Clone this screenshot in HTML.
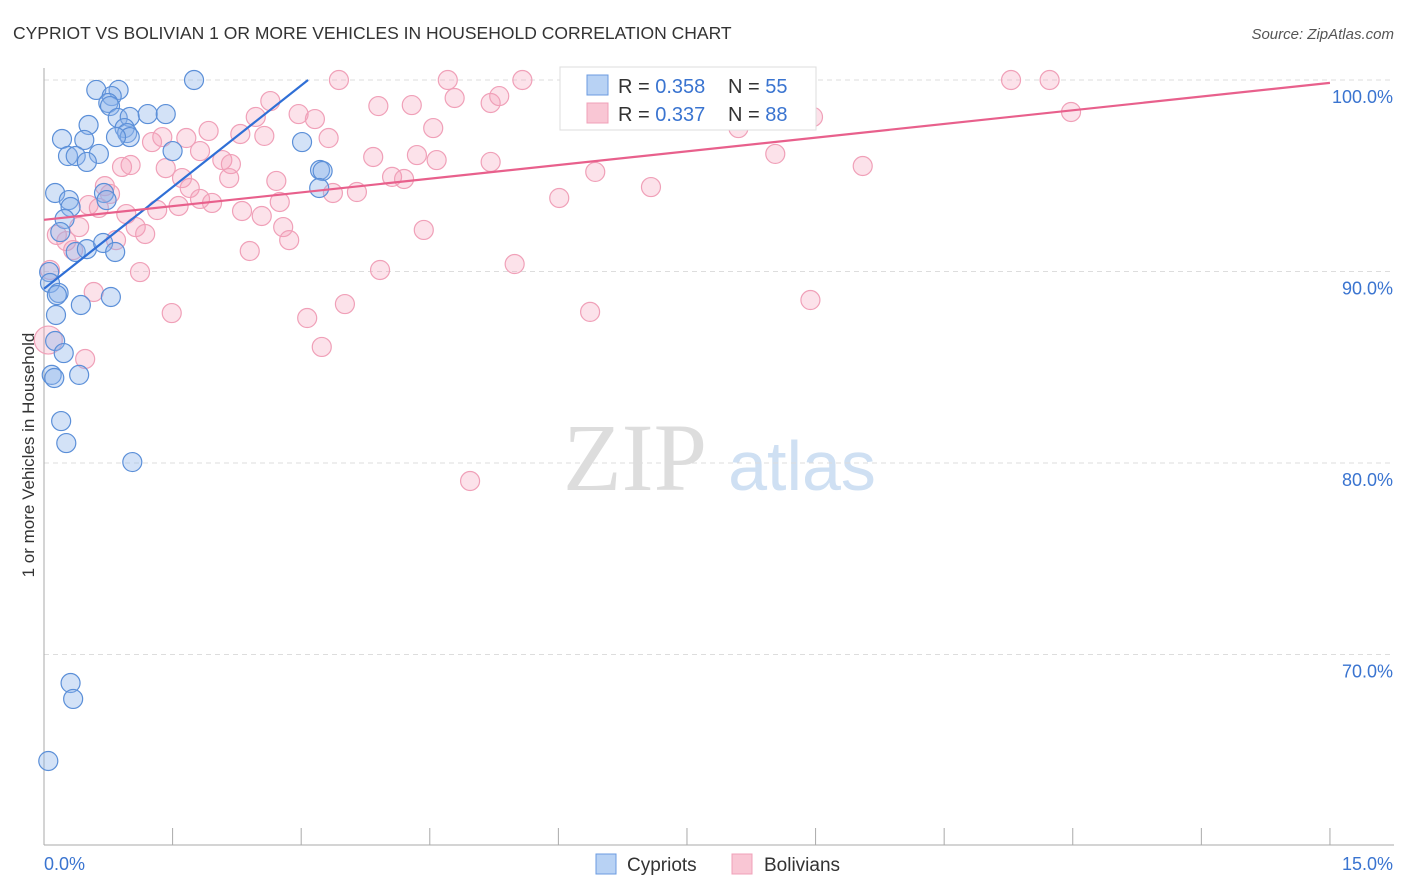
<!DOCTYPE html>
<html><head><meta charset="utf-8"><style>
body{margin:0;background:#fff;font-family:"Liberation Sans",sans-serif}
svg{display:block}
</style></head><body>
<svg id="chart" width="1406" height="892" viewBox="0 0 1406 892" xmlns="http://www.w3.org/2000/svg">
<text x="13" y="39" font-size="17.5" fill="#333">CYPRIOT VS BOLIVIAN 1 OR MORE VEHICLES IN HOUSEHOLD CORRELATION CHART</text>
<text x="1394" y="39" font-size="15" fill="#555" font-style="italic" text-anchor="end">Source: ZipAtlas.com</text>
<g>
<text x="635" y="490" font-size="96" fill="#ddd" font-family="Liberation Serif,serif" text-anchor="middle">ZIP</text>
<text x="802" y="490" font-size="70" fill="#cfe0f3" text-anchor="middle">atlas</text>
</g>
<g id="grid"></g>
<g id="axes"></g>
<g id="pts"></g>
<g id="lines"></g>
<text transform="translate(34,455) rotate(-90)" font-size="17" fill="#333" text-anchor="middle">1 or more Vehicles in Household</text>
<g>
<rect x="560" y="67" width="256" height="63" fill="#fff" stroke="#ddd"/>
<rect x="587" y="75" width="21" height="20" fill="#b8d2f4" stroke="#6b9be0"/>
<rect x="587" y="103" width="21" height="20" fill="#f9c6d4" stroke="#f0a0b8"/>
<text x="618" y="93" font-size="20" fill="#333">R = <tspan fill="#3a74d0">0.358</tspan></text>
<text x="728" y="93" font-size="20" fill="#333">N = <tspan fill="#3a74d0">55</tspan></text>
<text x="618" y="121" font-size="20" fill="#333">R = <tspan fill="#3a74d0">0.337</tspan></text>
<text x="728" y="121" font-size="20" fill="#333">N = <tspan fill="#3a74d0">88</tspan></text>
</g>
<g>
<rect x="596" y="854" width="20" height="20" fill="#b8d2f4" stroke="#6b9be0"/>
<text x="627" y="871" font-size="19" fill="#333">Cypriots</text>
<rect x="732" y="854" width="20" height="20" fill="#f9c6d4" stroke="#f0a0b8"/>
<text x="764" y="871" font-size="19" fill="#333">Bolivians</text>
</g>
</svg>
<script>
const blueX=[1.75,0.61,0.87,0.79,0.75,0.77,0.86,1.00,1.21,1.42,0.52,0.94,0.97,1.00,0.84,0.21,0.47,0.28,0.37,0.64,0.50,1.50,3.01,3.22,3.25,3.21,0.13,0.70,0.29,0.73,0.31,0.24,0.19,0.37,0.50,0.69,0.83,0.06,0.07,0.17,0.15,0.78,0.43,0.14,0.13,0.23,0.09,0.12,0.41,0.20,0.26,1.03,0.31,0.34,0.05];
const blueY=[100,99.48,99.48,99.16,98.80,98.64,98.02,98.07,98.22,98.22,97.65,97.49,97.23,97.02,97.02,96.92,96.87,96.03,96.03,96.14,95.72,96.29,96.76,95.30,95.25,94.36,94.10,94.10,93.73,93.73,93.37,92.74,92.06,91.02,91.17,91.49,91.02,89.97,89.40,88.88,88.77,88.67,88.25,87.73,86.37,85.74,84.60,84.44,84.60,82.19,81.04,80.05,68.51,67.68,64.44];
const pinkX=[3.44,4.71,5.58,11.28,11.73,2.64,3.90,4.29,4.79,5.21,5.31,2.47,2.97,3.16,8.97,11.98,8.10,1.92,2.29,2.57,1.38,1.26,1.66,3.32,4.54,3.84,4.35,4.58,5.21,6.43,8.53,9.55,0.91,1.01,1.82,2.08,2.18,1.42,1.61,2.16,2.71,4.06,4.20,3.37,3.65,1.70,0.71,0.77,1.82,1.96,2.75,6.01,7.08,0.52,0.64,1.32,1.57,2.31,2.54,0.96,2.79,0.41,1.07,4.43,1.18,2.86,0.15,0.26,0.84,0.34,2.40,1.12,3.92,5.49,0.58,1.49,3.07,3.51,6.37,8.94,3.24,0.48,4.97,0.07,0.05];
const pinkY=[100,100,100,100,100,98.90,98.64,98.69,99.06,98.80,99.16,98.07,98.22,97.96,98.07,98.33,97.49,97.34,97.18,97.08,97.02,96.76,96.97,96.97,97.49,95.98,96.08,95.82,95.72,95.20,96.14,95.51,95.46,95.56,96.29,95.82,95.61,95.40,94.88,94.88,94.73,94.94,94.83,94.10,94.15,94.36,94.46,94.05,93.79,93.58,93.63,93.84,94.41,93.47,93.32,93.21,93.42,93.16,92.90,93.00,92.32,92.32,92.32,92.17,91.96,91.64,91.91,91.59,91.64,91.12,91.07,89.97,90.08,90.39,88.93,87.83,87.57,88.30,87.89,88.51,86.06,85.43,79.06,90.08,86.42];
const blueTrend=[[0,89.1],[3.08,100]];
const pinkTrend=[[0,92.7],[15,99.85]];
const yTicks=[100,90,80,70];
const yTickLabels=["100.0%","90.0%","80.0%","70.0%"];
const xTicks=[0,1.5,3,4.5,6,7.5,9,10.5,12,13.5,15];
const NS="http://www.w3.org/2000/svg";
const sx=v=>44+v*85.73;
const sy=v=>80+(100-v)*19.15;
function mk(p,t,a){const e=document.createElementNS(NS,t);for(const k in a)e.setAttribute(k,a[k]);p.appendChild(e);return e;}
const grid=document.getElementById('grid'),axes=document.getElementById('axes'),pts=document.getElementById('pts'),lines=document.getElementById('lines');
yTicks.forEach((v,i)=>{
 const l=mk(grid,'line',{x1:44,x2:1394,y1:sy(v),y2:sy(v),stroke:'#ddd','stroke-dasharray':'5,4'});
 
 
 const t=mk(axes,'text',{x:1393,y:sy(v)+23,'font-size':18,fill:'#3a74d0','text-anchor':'end'});
 t.textContent=yTickLabels[i];
 
 
});
const ya=mk(axes,'line',{x1:44,x2:44,y1:68,y2:845,stroke:'#aaa'});


const xa=mk(axes,'line',{x1:44,x2:1394,y1:845,y2:845,stroke:'#aaa'});


xTicks.forEach(v=>{
 const t=mk(axes,'line',{x1:sx(v),x2:sx(v),y1:828,y2:845,stroke:'#aaa'});
 
 
});
const xl0=mk(axes,'text',{x:44,y:870,'font-size':18,fill:'#3a74d0'});xl0.textContent='0.0%';


const xl1=mk(axes,'text',{x:1393,y:870,'font-size':18,fill:'#3a74d0','text-anchor':'end'});xl1.textContent='15.0%';


pinkX.forEach((x,i)=>{
 const c=mk(pts,'circle',{cx:sx(x),cy:sy(pinkY[i]),r:(i===pinkX.length-1)?14:9.5,fill:'rgba(244,160,185,0.3)',stroke:'#f0a0b8','stroke-width':1.2});
 
 
});
blueX.forEach((x,i)=>{
 const c=mk(pts,'circle',{cx:sx(x),cy:sy(blueY[i]),r:9.5,fill:'rgba(140,180,235,0.38)',stroke:'#5b8fd8','stroke-width':1.2});
 
 
});
const bl=mk(lines,'line',{x1:sx(blueTrend[0][0]),y1:sy(blueTrend[0][1]),x2:sx(blueTrend[1][0]),y2:sy(blueTrend[1][1]),stroke:'#2f6fd6','stroke-width':2.2});


const pl=mk(lines,'line',{x1:sx(pinkTrend[0][0]),y1:sy(pinkTrend[0][1]),x2:sx(pinkTrend[1][0]),y2:sy(pinkTrend[1][1]),stroke:'#e8608c','stroke-width':2.2});


</script>
</body></html>
